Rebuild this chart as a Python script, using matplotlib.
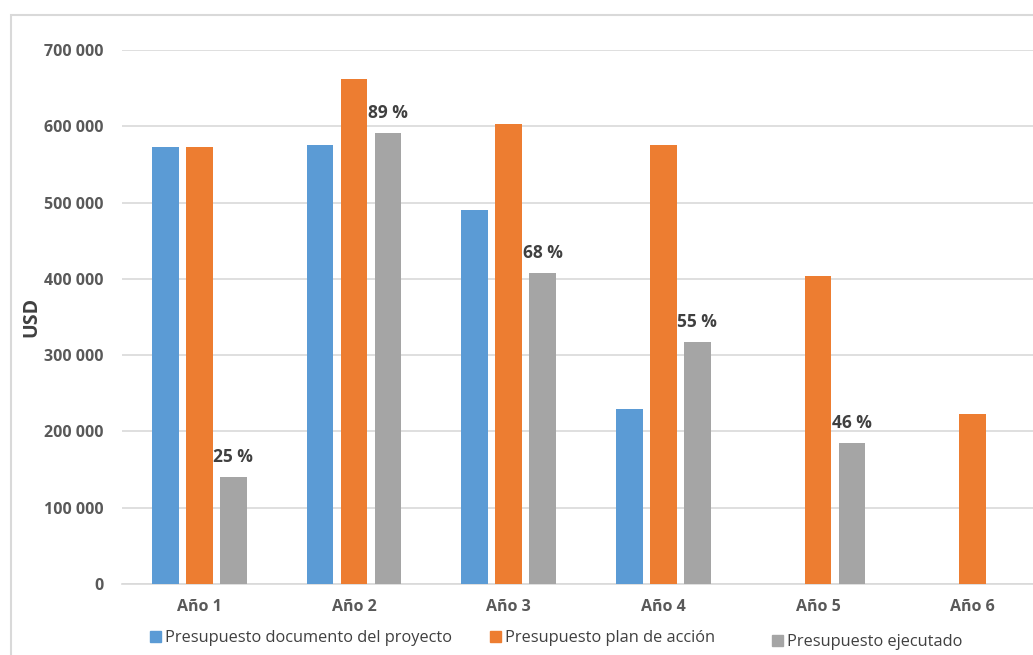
import numpy as np
import matplotlib
matplotlib.use('Agg')
import matplotlib.pyplot as plt
from matplotlib.patches import Rectangle, Patch

plt.rcParams['font.family'] = ['Open Sans', 'DejaVu Sans']

years = ['Año 1', 'Año 2', 'Año 3', 'Año 4', 'Año 5', 'Año 6']
doc_proyecto = [573000, 575000, 490000, 229000, np.nan, np.nan]
plan_accion = [573000, 662000, 603000, 575000, 404000, 223000]
ejecutado = [140000, 591000, 408000, 317000, 185000, np.nan]
pct_labels = ['25 %', '89 %', '68 %', '55 %', '46 %', '']

names = ['Presupuesto documento del proyecto', 'Presupuesto plan de acción',
         'Presupuesto ejecutado']
colors = ['#5b9bd5', '#ed7d31', '#a5a5a5']

W, H = 1033, 655
fig = plt.figure(figsize=(W / 100, H / 100), dpi=100)

# outer chart frame (cropped on the right like the source)
fig.patches.append(Rectangle((11 / W, -0.1), 1.2, 1 - 15 / H + 0.1,
                             transform=fig.transFigure, fill=False,
                             edgecolor='#d9d9d9', linewidth=1.5))

ax = fig.add_axes([122 / W, 71 / H, 928 / W, 534 / H])

x = np.arange(len(years))
width = 0.172
step = 0.22
for i, (vals, col) in enumerate(zip([doc_proyecto, plan_accion, ejecutado], colors)):
    ax.bar(x + (i - 1) * step, vals, width, color=col, label=names[i], zorder=3)

for xi, v, lab in zip(x, ejecutado, pct_labels):
    if lab:
        ax.annotate(lab, (xi + step, v), xytext=(0, 8), textcoords='offset points',
                    ha='center', va='bottom', fontsize=12.5, fontweight='bold',
                    color='#404040')

ax.set_xlim(-0.5, 5.5)
ax.set_ylim(0, 700000)
ax.set_yticks(range(0, 700001, 100000))
ax.set_yticklabels(['0' if t == 0 else f'{t // 1000} 000' for t in range(0, 700001, 100000)])
ax.set_xticks(x)
ax.set_xticklabels(years)

ax.grid(axis='y', color='#d9d9d9', linewidth=1.2, zorder=0)
ax.set_axisbelow(True)
for s in ['top', 'right', 'left']:
    ax.spines[s].set_visible(False)
ax.spines['bottom'].set_color('#d9d9d9')
ax.spines['bottom'].set_linewidth(1.2)
ax.tick_params(length=0)
ax.tick_params(axis='y', pad=13)
ax.tick_params(axis='x', pad=11)
for t in ax.get_xticklabels() + ax.get_yticklabels():
    t.set_fontweight('bold')
    t.set_fontsize(11.5)
    t.set_color('#595959')

ax.set_ylabel('USD', fontsize=14, fontweight='bold', color='#404040')
ax.yaxis.set_label_coords(-0.087, 0.5)

# legend entries spread along the bottom
leg_x = [142 / W, 482 / W, 764 / W]
leg_y = [17 / H, 17 / H, 13 / H]
for i in range(3):
    fig.legend(handles=[Patch(color=colors[i])], labels=[names[i]],
               loc='center left', bbox_to_anchor=(leg_x[i], leg_y[i]),
               frameon=False, fontsize=11.8, handlelength=0.65, handleheight=0.65,
               handletextpad=0.25, borderpad=0, labelcolor='#404040')

fig.savefig('out.png', dpi=100)
